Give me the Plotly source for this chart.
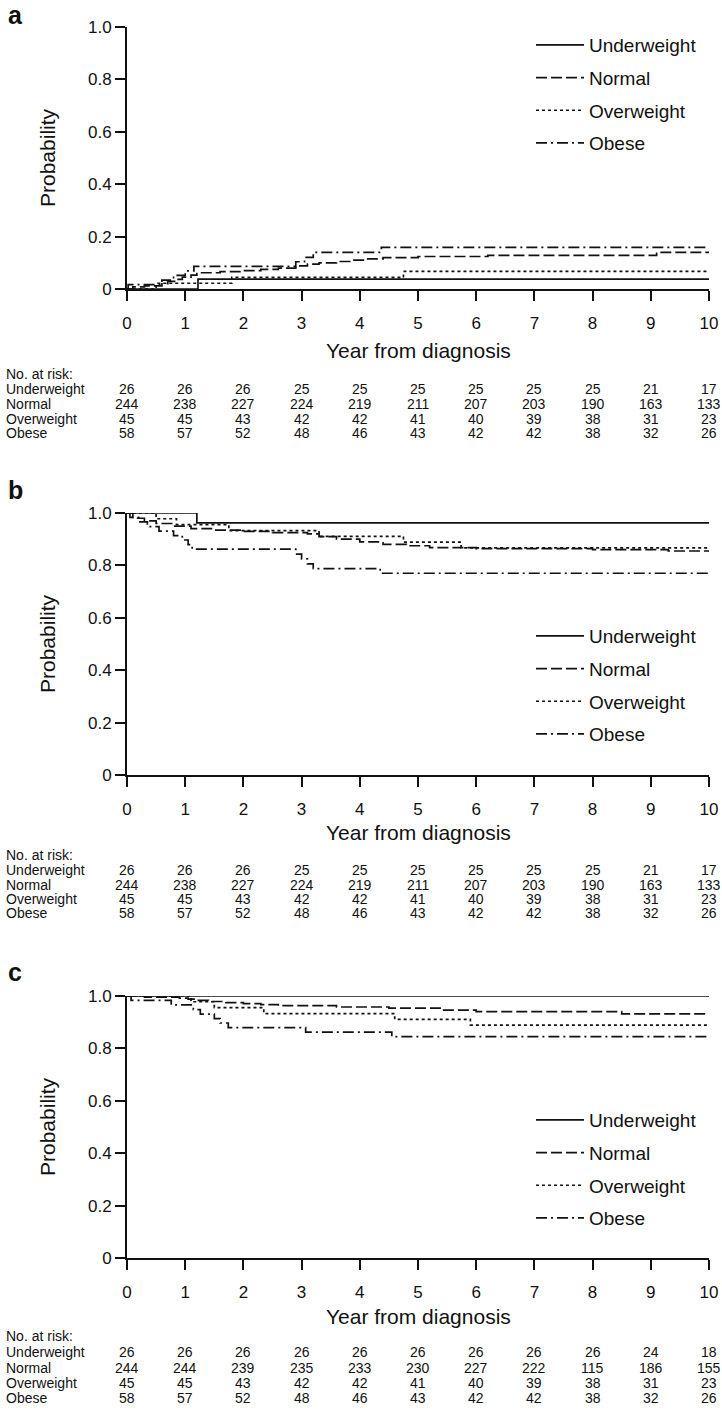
import plotly.graph_objects as go

W, H = 722, 1413
FONT = "Liberation Sans, Arial, sans-serif"

groups = ["Underweight", "Normal", "Overweight", "Obese"]
years = list(range(11))
y_ticks = [0, 0.2, 0.4, 0.6, 0.8, 1.0]
y_ticktext = ["0", "0.2", "0.4", "0.6", "0.8", "1.0"]
x_title = "Year from diagnosis"
y_title = "Probability"
panel_labels = ["a", "b", "c"]

# ---- Panel a (cumulative probability) ----
a_under_t = [0, 1.22, 10]
a_under_p = [0, 0.038, 0.038]
a_normal_t = [0, 0.1, 0.3, 0.6, 0.7, 0.85, 0.95, 1.1, 1.2, 1.6, 2.0, 2.3, 2.6, 2.9, 3.1, 3.3, 3.6, 3.9, 4.1, 4.4, 5.0, 6.2, 9.1, 10]
a_normal_p = [0, 0.008, 0.012, 0.02, 0.029, 0.037, 0.045, 0.053, 0.062, 0.066, 0.07, 0.075, 0.08, 0.088, 0.095, 0.1, 0.105, 0.11, 0.115, 0.12, 0.124, 0.128, 0.14, 0.14]
a_over_t = [0, 0.5, 1.8, 4.75, 10]
a_over_p = [0, 0.022, 0.044, 0.067, 0.067]
a_obese_t = [0, 0.02, 0.6, 0.8, 1.0, 1.15, 2.9, 3.05, 3.2, 4.37, 10]
a_obese_p = [0, 0.017, 0.034, 0.052, 0.069, 0.086, 0.104, 0.121, 0.14, 0.159, 0.159]

# ---- Panel b ----
b_under_t = [0, 1.2, 10]
b_under_p = [1, 0.962, 0.962]
b_normal_t = [0, 0.1, 0.3, 0.5, 0.8, 1.1, 1.5, 2.0, 2.5, 3.1, 3.3, 3.6, 4.0, 4.4, 4.8, 5.2, 6.0, 8.0, 9.3, 10]
b_normal_p = [1, 0.98, 0.97, 0.96, 0.95, 0.94, 0.935, 0.93, 0.925, 0.92, 0.91, 0.9, 0.89, 0.88, 0.875, 0.868, 0.864, 0.86, 0.855, 0.855]
b_over_t = [0, 0.5, 0.85, 1.75, 3.3, 4.75, 5.74, 10]
b_over_p = [1, 0.978, 0.956, 0.933, 0.911, 0.889, 0.867, 0.867]
b_obese_t = [0, 0.05, 0.2, 0.35, 0.55, 0.8, 0.95, 1.05, 1.12, 2.9, 3.0, 3.1, 3.2, 4.35, 10]
b_obese_p = [1, 0.983, 0.966, 0.948, 0.931, 0.914, 0.897, 0.879, 0.862, 0.843, 0.825, 0.806, 0.788, 0.77, 0.77]

# ---- Panel c ----
c_under_t = [0, 10]
c_under_p = [1, 1]
c_normal_t = [0, 0.3, 0.9, 1.05, 1.2, 1.4, 1.7, 2.0, 2.3, 2.6, 3.6, 4.5, 5.4, 6.0, 8.5, 10]
c_normal_p = [1, 0.996, 0.992, 0.988, 0.983, 0.979, 0.975, 0.971, 0.967, 0.963, 0.958, 0.954, 0.946, 0.94, 0.932, 0.932]
c_over_t = [0, 1.1, 1.5, 2.35, 4.6, 5.9, 10]
c_over_p = [1, 0.978, 0.956, 0.933, 0.911, 0.889, 0.889]
c_obese_t = [0, 0.07, 0.76, 1.14, 1.26, 1.5, 1.6, 1.74, 3.07, 4.55, 10]
c_obese_p = [1, 0.983, 0.966, 0.948, 0.931, 0.914, 0.897, 0.879, 0.862, 0.845, 0.845]

# ---- Numbers at risk ----
risk_a_under = [26, 26, 26, 25, 25, 25, 25, 25, 25, 21, 17]
risk_a_normal = [244, 238, 227, 224, 219, 211, 207, 203, 190, 163, 133]
risk_a_over = [45, 45, 43, 42, 42, 41, 40, 39, 38, 31, 23]
risk_a_obese = [58, 57, 52, 48, 46, 43, 42, 42, 38, 32, 26]

risk_b_under = [26, 26, 26, 25, 25, 25, 25, 25, 25, 21, 17]
risk_b_normal = [244, 238, 227, 224, 219, 211, 207, 203, 190, 163, 133]
risk_b_over = [45, 45, 43, 42, 42, 41, 40, 39, 38, 31, 23]
risk_b_obese = [58, 57, 52, 48, 46, 43, 42, 42, 38, 32, 26]

risk_c_under = [26, 26, 26, 26, 26, 26, 26, 26, 26, 24, 18]
risk_c_normal = [244, 244, 239, 235, 233, 230, 227, 222, 115, 186, 155]
risk_c_over = [45, 45, 43, 42, 42, 41, 40, 39, 38, 31, 23]
risk_c_obese = [58, 57, 52, 48, 46, 43, 42, 42, 38, 32, 26]

# ---------------- layout helpers ----------------
dashes = ["solid", "11px,4px", "3px,3px", "11px,4px,2px,4px"]

def px_x(px):
    return px / W

def px_y(px):
    return 1 - px / H

X0, X1 = 127, 709
panels = [
    dict(top=27, bottom=289,
         curves=[(a_under_t, a_under_p), (a_normal_t, a_normal_p), (a_over_t, a_over_p), (a_obese_t, a_obese_p)],
         risk=[risk_a_under, risk_a_normal, risk_a_over, risk_a_obese],
         leg_top=26, title=351, nrisk=374, rows=[389, 404, 419, 433], label=15),
    dict(top=513, bottom=775,
         curves=[(b_under_t, b_under_p), (b_normal_t, b_normal_p), (b_over_t, b_over_p), (b_obese_t, b_obese_p)],
         risk=[risk_b_under, risk_b_normal, risk_b_over, risk_b_obese],
         leg_top=617, title=832, nrisk=855, rows=[870, 885, 899, 913], label=490),
    dict(top=996, bottom=1258,
         curves=[(c_under_t, c_under_p), (c_normal_t, c_normal_p), (c_over_t, c_over_p), (c_obese_t, c_obese_p)],
         risk=[risk_c_under, risk_c_normal, risk_c_over, risk_c_obese],
         leg_top=1101, title=1316, nrisk=1336, rows=[1352, 1368, 1383, 1398], label=972),
]

fig = go.Figure()
annotations = []
layout = {}

for i, p in enumerate(panels):
    n = "" if i == 0 else str(i + 1)
    xa, ya = "x" + n, "y" + n
    leg = "legend" + n
    for g, (t, v), d in zip(groups, p["curves"], dashes):
        fig.add_trace(go.Scatter(
            x=t, y=v, mode="lines", name=g, line_shape="hv",
            line=dict(color="#111", width=1.7, dash=d),
            xaxis=xa, yaxis=ya, legend=leg, legendgroup=f"{leg}-{g}",
            hoverinfo="skip"))
    layout["xaxis" + n] = dict(
        domain=[px_x(X0), px_x(X1)], range=[0, 10], anchor=ya, automargin=False,
        tickvals=years, ticktext=[str(y) for y in years],
        showline=True, linecolor="#111", linewidth=2, ticks="outside",
        ticklen=10, tickwidth=2, tickcolor="#111", showgrid=False, zeroline=False,
        ticklabelstandoff=8,
        tickfont=dict(family=FONT, size=17, color="#111"))
    layout["yaxis" + n] = dict(
        domain=[px_y(p["bottom"]), px_y(p["top"])], range=[0, 1], anchor=xa, automargin=False,
        tickvals=y_ticks, ticktext=y_ticktext,
        showline=True, linecolor="#111", linewidth=2, ticks="outside",
        ticklen=10, tickwidth=2, tickcolor="#111", showgrid=False, zeroline=False,
        tickfont=dict(family=FONT, size=17, color="#111"))
    layout[leg] = dict(
        x=px_x(531), y=px_y(p["leg_top"]), xanchor="left", yanchor="top",
        bgcolor="rgba(0,0,0,0)", itemwidth=48, tracegroupgap=5,
        font=dict(family=FONT, size=19, color="#111"), itemclick=False)

    # axis titles
    annotations.append(dict(text=x_title, x=px_x((X0 + X1) / 2), y=px_y(p["title"]), xref="paper", yref="paper",
                            showarrow=False, xanchor="center", yanchor="middle",
                            font=dict(family=FONT, size=21, color="#111")))
    annotations.append(dict(text=y_title, x=px_x(47), y=px_y((p["top"] + p["bottom"]) / 2), xref="paper", yref="paper",
                            showarrow=False, textangle=-90, xanchor="center", yanchor="middle",
                            font=dict(family=FONT, size=21, color="#111")))
    # panel label
    annotations.append(dict(text="<b>" + panel_labels[i] + "</b>", x=px_x(6), y=px_y(p["label"]), xref="paper", yref="paper",
                            showarrow=False, xanchor="left", yanchor="middle",
                            font=dict(family=FONT, size=25, color="#111")))
    # risk table
    annotations.append(dict(text="No. at risk:", x=px_x(4), y=px_y(p["nrisk"]), xref="paper", yref="paper",
                            showarrow=False, xanchor="left", yanchor="middle",
                            font=dict(family=FONT, size=14, color="#111")))
    for g, row, ry in zip(groups, p["risk"], p["rows"]):
        annotations.append(dict(text=g, x=px_x(4), y=px_y(ry), xref="paper", yref="paper",
                                showarrow=False, xanchor="left", yanchor="middle",
                                font=dict(family=FONT, size=14, color="#111")))
        for yr, val in zip(years, row):
            annotations.append(dict(text=str(val), x=yr, y=px_y(ry), xref=xa, yref="paper",
                                    showarrow=False, xanchor="center", yanchor="middle",
                                    font=dict(family=FONT, size=14, color="#111")))

fig.update_layout(
    template="none",
    width=W, height=H, margin=dict(l=0, r=0, t=0, b=0, pad=0),
    paper_bgcolor="white", plot_bgcolor="white",
    showlegend=True, annotations=annotations, **layout)

# remove the page's default body margin so the figure fills the window exactly
fig.write_html("out.html",
               config={"displayModeBar": False},
               post_script="document.body.style.margin='0px';document.body.style.overflow='hidden';")
